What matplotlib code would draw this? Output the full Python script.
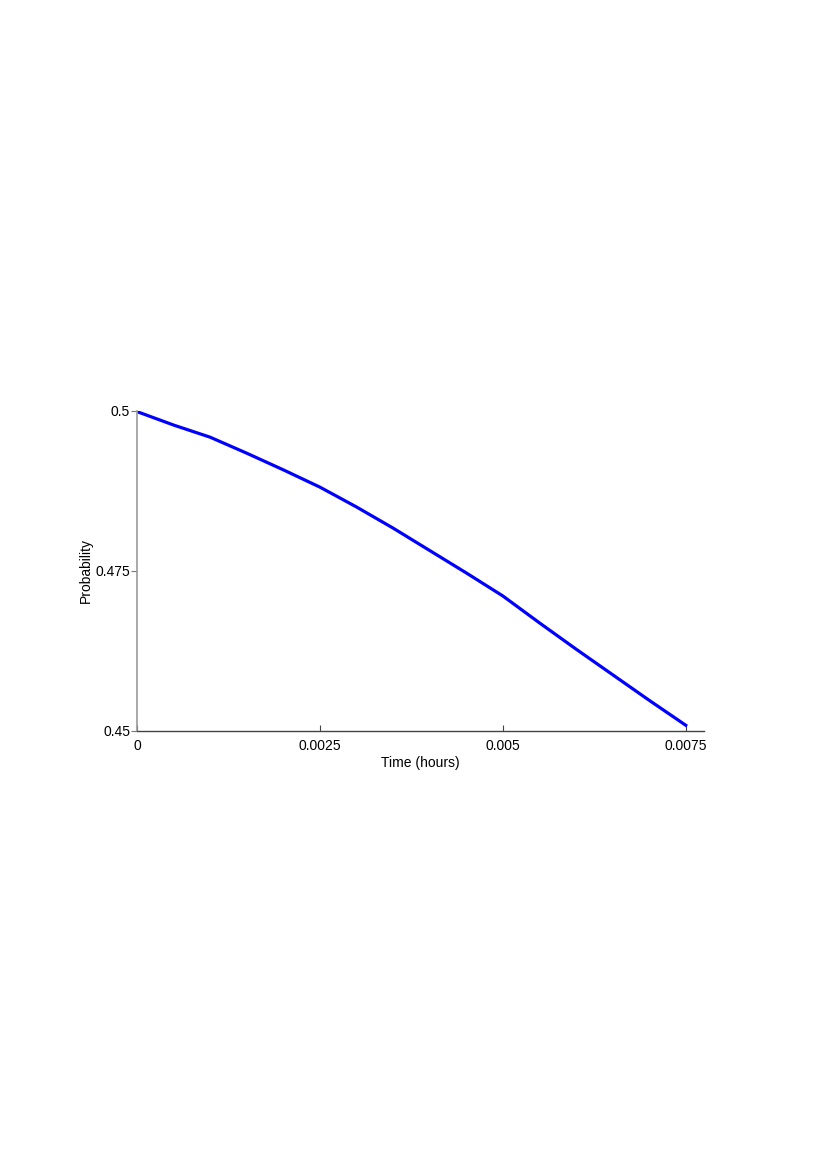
import numpy as np
import matplotlib
matplotlib.use("Agg")
from matplotlib import pyplot as plt

# curve
time_hours = [0.0, 0.0005, 0.001, 0.0015, 0.002, 0.0025, 0.003, 0.0035,
              0.004, 0.0045, 0.005, 0.0055, 0.006, 0.0065, 0.007, 0.0075]
probability = [0.4999, 0.4978, 0.4959, 0.4934, 0.4908, 0.4881, 0.4850, 0.4817,
               0.4782, 0.4747, 0.4711, 0.4669, 0.4628, 0.4588, 0.4548, 0.4509]
x_ticks = [0, 0.0025, 0.005, 0.0075]
x_tick_labels = ['0', '0.0025', '0.005', '0.0075']
y_ticks = [0.45, 0.475, 0.5]
y_tick_labels = ['0.45', '0.475', '0.5']

plt.rcParams['font.family'] = ['Liberation Sans', 'DejaVu Sans']

fig = plt.figure(figsize=(8.17, 11.57), dpi=100)
ax = fig.add_axes([0.1677, 0.3682, 0.694, 0.2766])

ax.plot(time_hours, probability, color='#0000ff', linewidth=2.3)

ax.set_xlim(0, 0.00775)
ax.set_ylim(0.45, 0.5)
ax.set_xticks(x_ticks)
ax.set_xticklabels(x_tick_labels)
ax.set_yticks(y_ticks)
ax.set_yticklabels(y_tick_labels)

ax.spines['top'].set_visible(False)
ax.spines['right'].set_visible(False)
ax.spines['left'].set_color('#999999')
ax.spines['bottom'].set_color('#444444')
ax.spines['left'].set_linewidth(1.2)
ax.spines['bottom'].set_linewidth(1.0)

ax.tick_params(axis='x', direction='in', length=4, width=0.8, color='#444444',
               labelsize=10, pad=6)
ax.tick_params(axis='y', direction='out', length=4, width=0.8, color='#777777',
               labelsize=10, pad=1)

ax.set_xlabel('Time (hours)', fontsize=10, labelpad=2)
ax.set_ylabel('Probability', fontsize=10, labelpad=2)

fig.savefig('out.png', dpi=100)
